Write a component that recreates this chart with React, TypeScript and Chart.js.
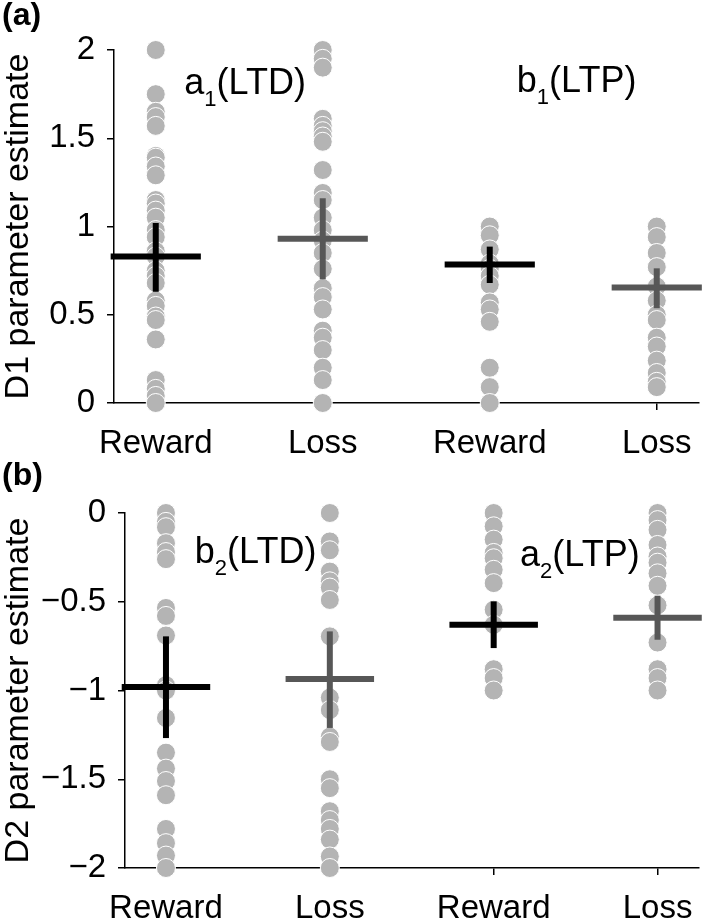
import React, { useEffect, useRef } from "react";
import { Chart, registerables } from "chart.js";

Chart.register(...registerables);

const FONT = '"Liberation Sans", Arial, Helvetica, sans-serif';

// ---- categories & ticks ----
const categories = ["Reward", "Loss", "Reward", "Loss"];
const d1Ticks = [0, 0.5, 1, 1.5, 2];
const d2Ticks = [-2, -1.5, -1, -0.5, 0];

// ---- panel (a): D1 parameter estimates ----
const d1RewardA = [2.0, 1.75, 1.65, 1.62, 1.57, 1.4, 1.39, 1.34, 1.29, 1.15, 1.13, 1.09, 1.05, 0.98, 0.94, 0.86, 0.83, 0.75, 0.72, 0.68, 0.58, 0.55, 0.49, 0.47, 0.36, 0.13, 0.08, 0.04, 0.0];
const d1LossA = [2.0, 1.95, 1.9, 1.61, 1.57, 1.54, 1.51, 1.48, 1.32, 1.19, 1.15, 1.05, 0.98, 0.92, 0.85, 0.76, 0.65, 0.6, 0.53, 0.41, 0.37, 0.3, 0.2, 0.13, 0.0];
const d1RewardB = [1.0, 0.95, 0.87, 0.79, 0.76, 0.72, 0.67, 0.57, 0.53, 0.46, 0.2, 0.09, 0.0];
const d1LossB = [1.0, 0.94, 0.85, 0.77, 0.66, 0.58, 0.5, 0.47, 0.37, 0.32, 0.24, 0.17, 0.12, 0.09];
const d1Means = [0.83, 0.93, 0.785, 0.655];
const d1ErrHigh = [1.02, 1.16, 0.886, 0.763];
const d1ErrLow = [0.63, 0.7, 0.68, 0.537];

// ---- panel (b): D2 parameter estimates ----
const d2RewardB = [0, -0.05, -0.08, -0.17, -0.22, -0.26, -0.535, -0.58, -0.69, -0.97, -1.0, -1.155, -1.35, -1.44, -1.51, -1.59, -1.78, -1.86, -1.93, -2.0];
const d2LossB = [0, -0.16, -0.21, -0.33, -0.385, -0.42, -0.49, -0.695, -1.04, -1.11, -1.26, -1.29, -1.5, -1.55, -1.68, -1.73, -1.78, -1.84, -1.935, -2.0];
const d2RewardA = [0, -0.075, -0.15, -0.225, -0.255, -0.32, -0.395, -0.545, -0.63, -0.88, -0.93, -1.0];
const d2LossA = [0, -0.04, -0.095, -0.18, -0.245, -0.28, -0.34, -0.41, -0.52, -0.73, -0.88, -0.93, -1.0];
const d2Means = [-0.98, -0.935, -0.63, -0.59];
const d2ErrHigh = [-0.695, -0.667, -0.498, -0.466];
const d2ErrLow = [-1.268, -1.211, -0.761, -0.714];

// ---- styles ----
const POINT_COLOR = "#b4b4b4";
const MEAN_COLORS = ["#000000", "#575757", "#000000", "#575757"];
const TICK_SIZE = 33;

const fmtTick = (v: number) => {
  const s = String(Math.abs(v));
  return v < 0 ? "\u2212" + s : s;
};

const annotPlugin = {
  id: "subAnnot",
  afterDatasetsDraw(chart: any, _args: any, opts: any) {
    const { ctx, scales } = chart;
    const items = (opts && opts.items) || [];
    for (const it of items) {
      const cx = scales.x.getPixelForValue(it.x);
      const by = scales.y.getPixelForValue(it.y);
      ctx.save();
      ctx.fillStyle = "#000";
      ctx.textBaseline = "alphabetic";
      ctx.textAlign = "left";
      const mainF = `${it.size}px ${FONT}`;
      const subF = `${it.subSize}px ${FONT}`;
      ctx.font = mainF;
      const w1 = ctx.measureText(it.base).width;
      const w3 = ctx.measureText(it.rest).width;
      ctx.font = subF;
      const w2 = ctx.measureText(it.sub).width;
      let x = cx - (w1 + w2 + w3) / 2;
      ctx.font = mainF;
      ctx.fillText(it.base, x, by);
      x += w1;
      ctx.font = subF;
      ctx.fillText(it.sub, x, by + it.subDrop);
      x += w2;
      ctx.font = mainF;
      ctx.fillText(it.rest, x, by);
      ctx.restore();
    }
    if (opts && opts.panelLabel) {
      ctx.save();
      ctx.fillStyle = "#000";
      ctx.font = `bold 32px ${FONT}`;
      ctx.textBaseline = "alphabetic";
      ctx.textAlign = "left";
      ctx.fillText(opts.panelLabel, 2, opts.panelBaseline);
      ctx.restore();
    }
  },
};

type PanelSpec = {
  groups: number[][];
  means: number[];
  errHigh: number[];
  errLow: number[];
  yMin: number;
  yMax: number;
  yTicks: number[];
  yTitle: string;
  yAxisWidth: number;
  xAxisHeight: number;
  padTop: number;
  padRight: number;
  annotations: any[];
  panelLabel: string;
};

function buildConfig(p: PanelSpec): any {
  const datasets: any[] = [];
  p.groups.forEach((vals, i) => {
    datasets.push({
      type: "scatter",
      data: vals.map((v) => ({ x: i + 1, y: v })),
      backgroundColor: POINT_COLOR,
      borderColor: "#ffffff",
      borderWidth: 1,
      pointRadius: 9.5,
      pointHoverRadius: 9.5,
      showLine: false,
      clip: false,
      order: 2,
    });
  });
  p.means.forEach((m, i) => {
    datasets.push({
      type: "scatter",
      data: [
        { x: i + 1 - 0.27, y: m },
        { x: i + 1 + 0.27, y: m },
      ],
      showLine: true,
      borderColor: MEAN_COLORS[i],
      borderWidth: 6,
      borderCapStyle: "butt",
      pointRadius: 0,
      clip: false,
      order: 1,
    });
    datasets.push({
      type: "scatter",
      data: [
        { x: i + 1, y: p.errLow[i] },
        { x: i + 1, y: p.errHigh[i] },
      ],
      showLine: true,
      borderColor: MEAN_COLORS[i],
      borderWidth: 6,
      borderCapStyle: "butt",
      pointRadius: 0,
      clip: false,
      order: 1,
    });
  });

  const axisGrid = {
    display: true,
    drawOnChartArea: false,
    drawTicks: true,
    tickLength: 7,
    color: "#000",
    lineWidth: 1.5,
  };
  const axisBorder = { display: true, color: "#000", width: 1.5 };

  return {
    type: "scatter",
    data: { datasets },
    plugins: [annotPlugin],
    options: {
      responsive: false,
      maintainAspectRatio: false,
      devicePixelRatio: 1,
      animation: false,
      events: [],
      layout: { padding: { top: p.padTop, right: p.padRight, left: 0, bottom: 0 } },
      plugins: {
        legend: { display: false },
        tooltip: { enabled: false },
        title: { display: false },
        subAnnot: { items: p.annotations, panelLabel: p.panelLabel, panelBaseline: 25 },
      },
      scales: {
        x: {
          type: "linear",
          min: 0.75,
          max: 4.25,
          afterBuildTicks: (s: any) => {
            s.ticks = categories.map((_, i) => ({ value: i + 1 }));
          },
          afterFit: (s: any) => {
            s.height = p.xAxisHeight;
          },
          ticks: {
            callback: (_v: any, i: number) => categories[i],
            font: { family: FONT, size: TICK_SIZE },
            color: "#000",
            padding: 14,
            autoSkip: false,
            maxRotation: 0,
            minRotation: 0,
          },
          grid: axisGrid,
          border: axisBorder,
        },
        y: {
          type: "linear",
          min: p.yMin,
          max: p.yMax,
          afterBuildTicks: (s: any) => {
            s.ticks = p.yTicks.map((v) => ({ value: v }));
          },
          afterFit: (s: any) => {
            s.width = p.yAxisWidth;
          },
          ticks: {
            callback: (v: any) => fmtTick(Number(v)),
            font: { family: FONT, size: TICK_SIZE },
            color: "#000",
            padding: 12,
          },
          grid: axisGrid,
          border: axisBorder,
          title: {
            display: true,
            text: p.yTitle,
            font: { family: FONT, size: 34, lineHeight: 1.1 },
            color: "#000",
            padding: { top: 0, bottom: 0 },
          },
        },
      },
    },
  };
}

const panelA: PanelSpec = {
  groups: [d1RewardA, d1LossA, d1RewardB, d1LossB],
  means: d1Means,
  errHigh: d1ErrHigh,
  errLow: d1ErrLow,
  yMin: 0,
  yMax: 2,
  yTicks: d1Ticks,
  yTitle: "D1 parameter estimate",
  yAxisWidth: 114,
  xAxisHeight: 57,
  padTop: 50,
  padRight: 2,
  annotations: [
    { x: 1.535, y: 1.75, base: "a", sub: "1", rest: "(LTD)", size: 36, subSize: 22, subDrop: 12 },
    { x: 3.52, y: 1.76, base: "b", sub: "1", rest: "(LTP)", size: 36, subSize: 22, subDrop: 12 },
  ],
  panelLabel: "(a)",
};

const panelB: PanelSpec = {
  groups: [d2RewardB, d2LossB, d2RewardA, d2LossA],
  means: d2Means,
  errHigh: d2ErrHigh,
  errLow: d2ErrLow,
  yMin: -2,
  yMax: 0,
  yTicks: d2Ticks,
  yTitle: "D2 parameter estimate",
  yAxisWidth: 125,
  xAxisHeight: 52,
  padTop: 53,
  padRight: 4,
  annotations: [
    { x: 1.547, y: -0.28, base: "b", sub: "2", rest: "(LTD)", size: 36, subSize: 22, subDrop: 12 },
    { x: 3.526, y: -0.3, base: "a", sub: "2", rest: "(LTP)", size: 36, subSize: 22, subDrop: 12 },
  ],
  panelLabel: "(b)",
};

export default function App() {
  const topRef = useRef<HTMLCanvasElement | null>(null);
  const botRef = useRef<HTMLCanvasElement | null>(null);

  useEffect(() => {
    const charts: Chart[] = [];
    if (topRef.current) charts.push(new Chart(topRef.current, buildConfig(panelA)));
    if (botRef.current) charts.push(new Chart(botRef.current, buildConfig(panelB)));
    return () => {
      charts.forEach((c) => c.destroy());
    };
  }, []);

  return (
    <div style={{ position: "absolute", left: 0, top: 0, width: 709, height: 920, background: "#fff" }}>
      <canvas ref={topRef} width={709} height={460} style={{ display: "block", width: 709, height: 460 }} />
      <canvas ref={botRef} width={709} height={460} style={{ display: "block", width: 709, height: 460 }} />
    </div>
  );
}
